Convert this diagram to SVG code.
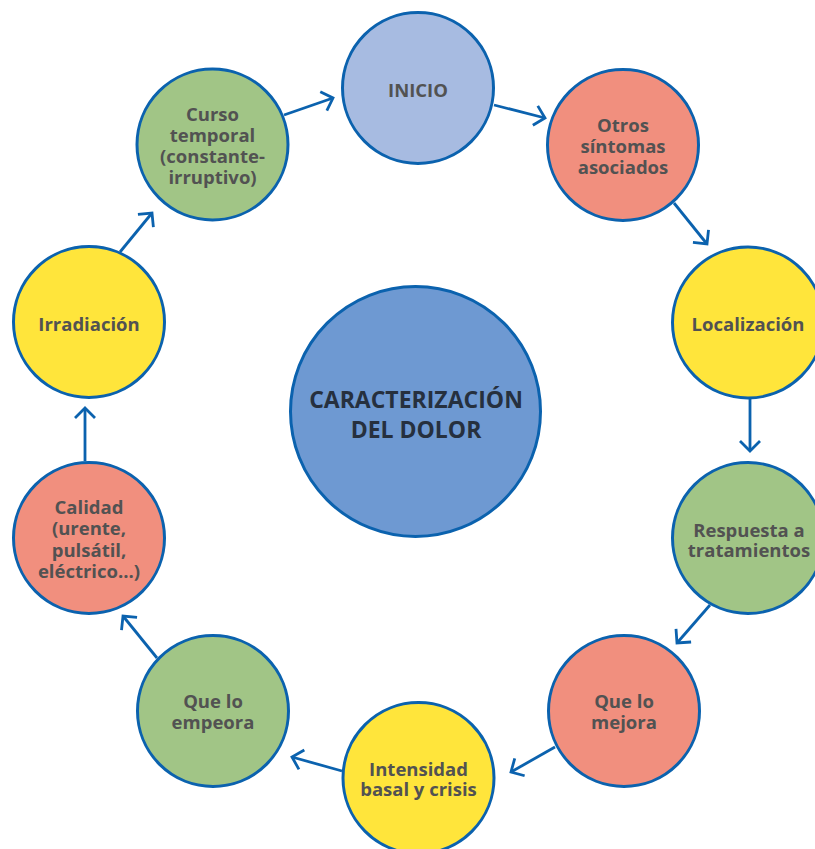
<svg xmlns="http://www.w3.org/2000/svg" width="815" height="849" viewBox="0 0 815 849">
  <defs>
    <marker id="chev" markerUnits="userSpaceOnUse" markerWidth="30" markerHeight="30" refX="0" refY="0" viewBox="-15 -15 30 30" orient="auto" overflow="visible">
      <path d="M -10 -10 L 0 0 L -10 10" fill="none" stroke="#0B62AE" stroke-width="2.8" stroke-linecap="butt" stroke-linejoin="miter"/>
    </marker>
    <style>
      .node { stroke: #0B62AE; stroke-width: 3; }
      .blue-light { fill: #A7BBE1; }
      .blue-mid { fill: #6E99D2; }
      .green { fill: #A1C586; }
      .salmon { fill: #F18F7E; }
      .yellow { fill: #FFE53B; }
      .lbl { font-family: "Open Sans", "Noto Sans", "Liberation Sans", sans-serif; font-weight: 700; font-size: 18.5px; fill: #525252; text-anchor: middle; }
      .title { font-family: "Open Sans", "Noto Sans", "Liberation Sans", sans-serif; font-weight: 700; font-size: 23px; fill: #26303E; text-anchor: middle; }
      .edge { fill: none; stroke: #0B62AE; stroke-width: 2.8; marker-end: url(#chev); }
    </style>
  </defs>

  <rect width="815" height="849" fill="#FFFFFF"/>

  <!-- connectors around the ring -->
  <g id="connectors">
    <line class="edge" x1="284" y1="115" x2="333" y2="98"/>
    <line class="edge" x1="494" y1="105" x2="545" y2="118"/>
    <line class="edge" x1="674" y1="203" x2="707" y2="244"/>
    <line class="edge" x1="750" y1="399" x2="750" y2="451"/>
    <line class="edge" x1="710" y1="605" x2="677" y2="643"/>
    <line class="edge" x1="555" y1="747" x2="511" y2="772"/>
    <line class="edge" x1="342" y1="771" x2="292" y2="757"/>
    <line class="edge" x1="157" y1="658" x2="123" y2="616"/>
    <line class="edge" x1="85" y1="461" x2="85" y2="408"/>
    <line class="edge" x1="120" y1="252" x2="152" y2="213"/>
  </g>

  <!-- central node -->
  <g id="caracterizacion">
    <circle class="node blue-mid" cx="415.5" cy="411.5" r="125"/>
    <text class="title"><tspan x="416" y="408">CARACTERIZACIÓN</tspan><tspan x="416" y="438">DEL DOLOR</tspan></text>
  </g>

  <g id="inicio">
    <circle class="node blue-light" cx="418" cy="88" r="75.5"/>
    <text class="lbl" x="418" y="97">INICIO</text>
  </g>

  <g id="otros-sintomas">
    <circle class="node salmon" cx="623" cy="145" r="75.5"/>
    <text class="lbl"><tspan x="623" y="132">Otros</tspan><tspan x="623" y="153">síntomas</tspan><tspan x="623" y="174">asociados</tspan></text>
  </g>

  <g id="localizacion">
    <circle class="node yellow" cx="748" cy="322.5" r="75.5"/>
    <text class="lbl" x="748" y="331">Localización</text>
  </g>

  <g id="respuesta">
    <circle class="node green" cx="748" cy="538" r="75.5"/>
    <text class="lbl"><tspan x="749" y="537">Respuesta a</tspan><tspan x="749" y="557">tratamientos</tspan></text>
  </g>

  <g id="que-lo-mejora">
    <circle class="node salmon" cx="624" cy="711" r="75.5"/>
    <text class="lbl"><tspan x="624" y="708">Que lo</tspan><tspan x="624" y="729">mejora</tspan></text>
  </g>

  <g id="intensidad">
    <circle class="node yellow" cx="418.5" cy="778" r="75.5"/>
    <text class="lbl"><tspan x="418.5" y="776">Intensidad</tspan><tspan x="418.5" y="796">basal y crisis</tspan></text>
  </g>

  <g id="que-lo-empeora">
    <circle class="node green" cx="213" cy="711" r="75.5"/>
    <text class="lbl"><tspan x="213" y="708">Que lo</tspan><tspan x="213" y="729">empeora</tspan></text>
  </g>

  <g id="calidad">
    <circle class="node salmon" cx="89" cy="538" r="75.5"/>
    <text class="lbl"><tspan x="89" y="514">Calidad</tspan><tspan x="89" y="535">(urente,</tspan><tspan x="89" y="557">pulsátil,</tspan><tspan x="89" y="578">eléctrico...)</tspan></text>
  </g>

  <g id="irradiacion">
    <circle class="node yellow" cx="89" cy="322" r="75.5"/>
    <text class="lbl" x="89" y="331">Irradiación</text>
  </g>

  <g id="curso-temporal">
    <circle class="node green" cx="212.5" cy="144.5" r="75.5"/>
    <text class="lbl"><tspan x="212.5" y="121">Curso</tspan><tspan x="212.5" y="142">temporal</tspan><tspan x="212.5" y="163">(constante-</tspan><tspan x="212.5" y="184">irruptivo)</tspan></text>
  </g>
</svg>
